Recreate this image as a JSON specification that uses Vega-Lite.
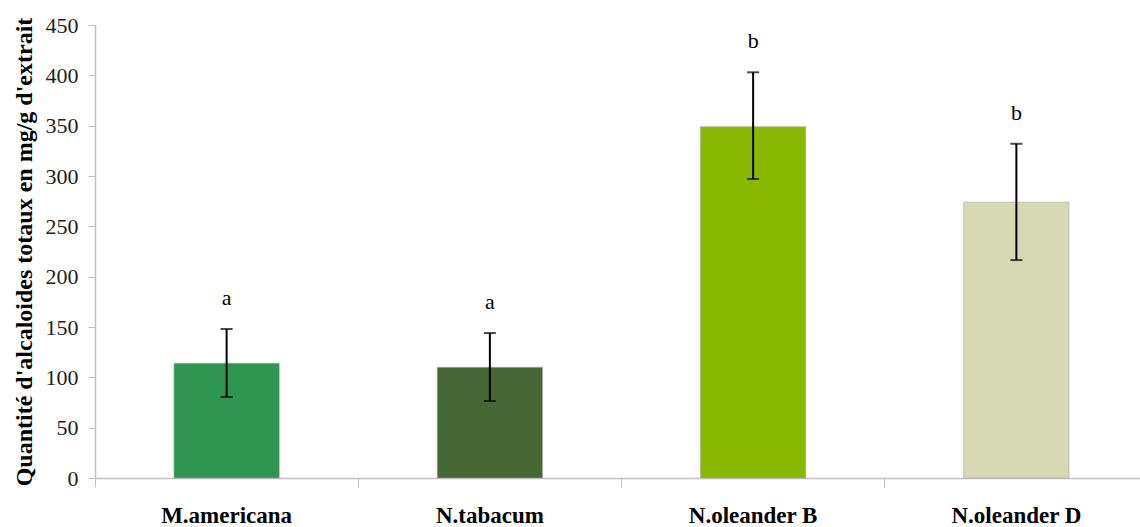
{
  "$schema": "https://vega.github.io/schema/vega-lite/v6.json",
  "width": 1045,
  "height": 453,
  "autosize": {"type": "none"},
  "padding": {"left": 95, "top": 25, "right": 0, "bottom": 49},
  "background": "white",
  "config": {"view": {"stroke": null}, "font": "Liberation Serif"},
  "data": {
    "values": [
      {"espece": "M.americana", "moyenne": 114, "bas": 80.5, "haut": 148, "groupe": "a"},
      {"espece": "N.tabacum", "moyenne": 110, "bas": 76.5, "haut": 144, "groupe": "a"},
      {"espece": "N.oleander B", "moyenne": 349, "bas": 297, "haut": 403, "groupe": "b"},
      {"espece": "N.oleander D", "moyenne": 274, "bas": 216.5, "haut": 332, "groupe": "b"}
    ]
  },
  "encoding": {
    "x": {
      "field": "espece",
      "type": "nominal",
      "sort": null,
      "scale": {"paddingInner": 0, "paddingOuter": 0, "range": [0, 1053]},
      "axis": {
        "title": null,
        "labelAngle": 0,
        "labelFont": "Liberation Serif",
        "labelFontWeight": "bold",
        "labelFontSize": 23,
        "labelColor": "black",
        "labelPadding": 17,
        "bandPosition": 0,
        "tickSize": 9,
        "tickColor": "#c0c0c0",
        "domainColor": "#c0c0c0",
        "domainWidth": 1.5,
        "labelBaseline": "top"
      }
    }
  },
  "layer": [
    {
      "mark": {"type": "bar", "width": {"band": 0.4}, "stroke": "#a8a8a0", "strokeWidth": 0.6},
      "encoding": {
        "y": {
          "field": "moyenne",
          "type": "quantitative",
          "scale": {"domain": [0, 450], "nice": false},
          "axis": {
            "title": "Quantité d'alcaloides totaux en mg/g d'extrait",
            "titleFont": "Liberation Serif",
            "titleFontWeight": "bold",
            "titleFontSize": 24,
            "titleColor": "black",
            "titlePadding": 9,
            "values": [0, 50, 100, 150, 200, 250, 300, 350, 400, 450],
            "labelFont": "Liberation Serif",
            "labelFontSize": 22,
            "labelColor": "#222",
            "labelPadding": 10,
            "tickSize": 7,
            "tickColor": "#c0c0c0",
            "domainColor": "#c0c0c0",
            "domainWidth": 1.5,
            "grid": false
          }
        },
        "color": {
          "field": "espece",
          "type": "nominal",
          "sort": null,
          "legend": null,
          "scale": {
            "domain": ["M.americana", "N.tabacum", "N.oleander B", "N.oleander D"],
            "range": ["#2e9650", "#466835", "#8ab800", "#d6d9b4"]
          }
        }
      }
    },
    {
      "mark": {"type": "rule", "color": "black", "strokeWidth": 2},
      "encoding": {
        "y": {"field": "bas", "type": "quantitative"},
        "y2": {"field": "haut"}
      }
    },
    {
      "mark": {"type": "tick", "color": "black", "thickness": 2, "size": 12},
      "encoding": {"y": {"field": "haut", "type": "quantitative"}}
    },
    {
      "mark": {"type": "tick", "color": "black", "thickness": 2, "size": 12},
      "encoding": {"y": {"field": "bas", "type": "quantitative"}}
    },
    {
      "mark": {"type": "text", "dy": -24, "baseline": "alphabetic", "fontSize": 22, "font": "Liberation Serif", "color": "black"},
      "encoding": {
        "y": {"field": "haut", "type": "quantitative"},
        "text": {"field": "groupe"}
      }
    }
  ]
}
